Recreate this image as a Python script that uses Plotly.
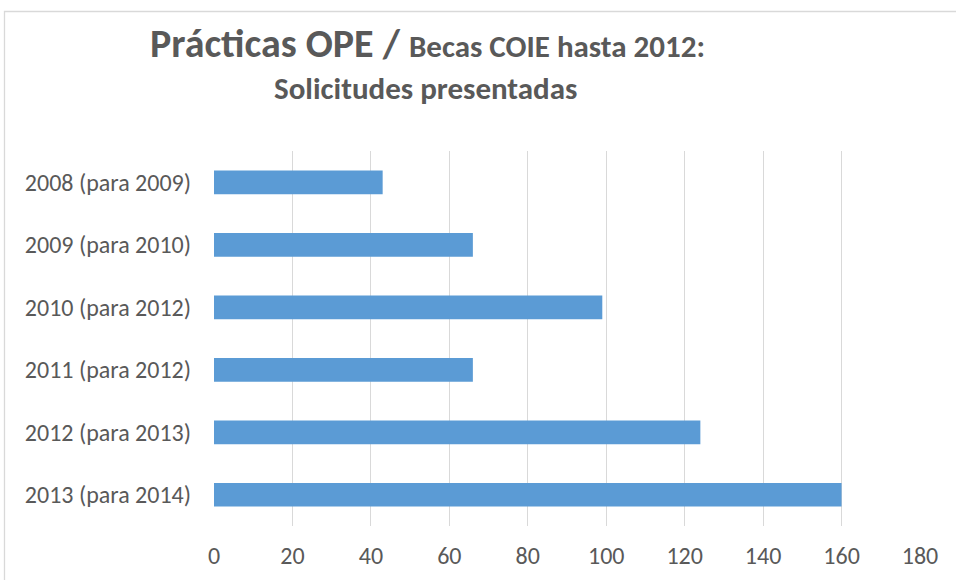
import plotly.graph_objects as go

categories = ["2008 (para 2009)", "2009 (para 2010)", "2010 (para 2012)",
              "2011 (para 2012)", "2012 (para 2013)", "2013 (para 2014)"]
values = [43, 66, 99, 66, 124, 160]
x_ticks = [0, 20, 40, 60, 80, 100, 120, 140, 160, 180]

W, H = 956, 580
L, R, T, B = 214, 36, 151, 54
pw, ph = W - L - R, H - T - B

def px_to_paper_x(px):
    return (px - L) / pw

def px_to_paper_y(py):
    return 1 - (py - T) / ph

FONT = "Carlito, Liberation Sans Narrow, Open Sans, sans-serif"
GREY = "#595959"

fig = go.Figure(go.Bar(
    x=values, y=categories, orientation="h",
    marker=dict(color="#5b9bd5", line=dict(width=0)),
))

fig.update_layout(
    width=W, height=H,
    margin=dict(l=L, r=R, t=T, b=B, autoexpand=False),
    paper_bgcolor="white", plot_bgcolor="white",
    bargap=0.62,
    showlegend=False,
    font=dict(family=FONT, color=GREY, size=24),
)
fig.update_xaxes(range=[0, 180], tickvals=x_ticks, showgrid=True,
                 gridcolor="#d9d9d9", gridwidth=1.3, zeroline=False,
                 showline=False, ticks="", ticklabelstandoff=13,
                 tickfont=dict(size=24, color=GREY, family=FONT))
fig.update_yaxes(autorange="reversed", showgrid=False, zeroline=False,
                 showline=False, ticks="", ticklabelstandoff=22,
                 tickfont=dict(size=24, color=GREY, family=FONT))

fig.add_annotation(
    xref="paper", yref="paper",
    x=px_to_paper_x(427), y=px_to_paper_y(44),
    text="<b>Prácticas OPE / <span style='font-size:31px'>Becas COIE hasta 2012:</span></b>",
    showarrow=False, xanchor="center", yanchor="middle",
    font=dict(size=40, color=GREY, family=FONT),
)
fig.add_annotation(
    xref="paper", yref="paper",
    x=px_to_paper_x(425), y=px_to_paper_y(88),
    text="<b>Solicitudes presentadas</b>",
    showarrow=False, xanchor="center", yanchor="middle",
    font=dict(size=31, color=GREY, family=FONT),
)
fig.add_shape(
    type="rect", xref="paper", yref="paper",
    x0=px_to_paper_x(4.5), y0=px_to_paper_y(620),
    x1=px_to_paper_x(1000), y1=px_to_paper_y(11.5),
    line=dict(color="#d9d9d9", width=1.3), layer="below",
)

fig.write_html("out.html", config={"displayModeBar": False},
               post_script="document.body.style.margin='0';")
